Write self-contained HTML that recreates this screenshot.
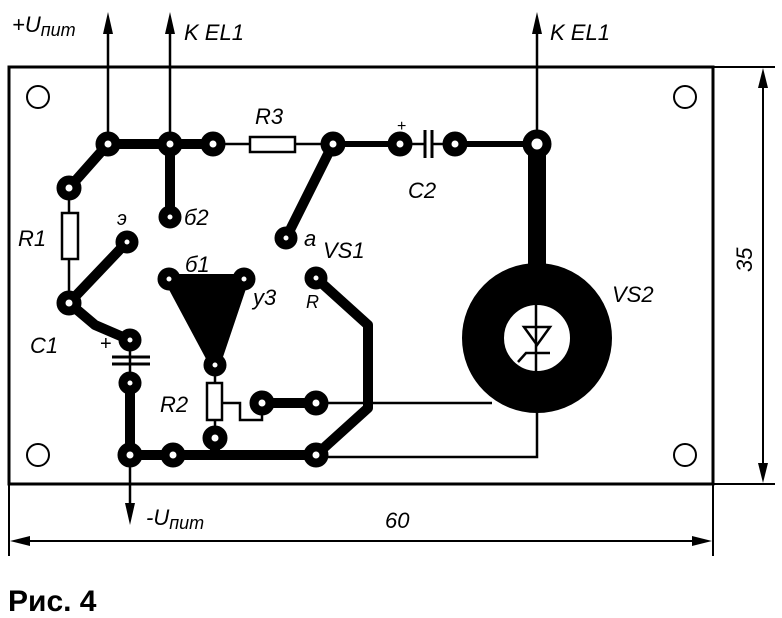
<!DOCTYPE html>
<html><head><meta charset="utf-8"><style>
html,body{margin:0;padding:0;background:#fff}
svg{display:block}
text{font-family:"Liberation Sans","DejaVu Sans",sans-serif;font-style:italic;fill:#000}
text.n{font-style:normal}
</style></head><body>
<svg width="782" height="618" viewBox="0 0 782 618" xmlns="http://www.w3.org/2000/svg">
<!-- board -->
<rect x="9" y="67" width="704" height="417" fill="none" stroke="#000" stroke-width="3"/>
<g fill="none" stroke="#000" stroke-width="2">
<circle cx="38" cy="97" r="11"/><circle cx="685" cy="97" r="11"/>
<circle cx="38" cy="455" r="11"/><circle cx="685" cy="455" r="11"/>
</g>
<!-- thin lines -->
<g stroke="#000" stroke-width="2.5" fill="none">
<line x1="108" y1="144" x2="108" y2="20"/>
<line x1="170" y1="144" x2="170" y2="20"/>
<line x1="537" y1="144" x2="537" y2="20"/>
<line x1="130" y1="455" x2="130" y2="515"/>
<line x1="213" y1="144" x2="250" y2="144"/>
<line x1="295" y1="144" x2="333" y2="144"/>
<line x1="400" y1="144" x2="425" y2="144"/>
<line x1="432" y1="144" x2="455" y2="144"/>
<line x1="69" y1="188" x2="69" y2="213"/>
<line x1="69" y1="259" x2="69" y2="303"/>
<line x1="215" y1="365" x2="215" y2="438"/>
<path d="M222,403 H240 V420 H262 V403"/>
<path d="M316,403 H492"/>
<path d="M316,457 H537 V410"/>
<line x1="130" y1="338" x2="130" y2="383"/>
</g>
<!-- arrowheads -->
<g fill="#000">
<path d="M108,12 L103,34 L113,34Z"/><path d="M170,12 L165,34 L175,34Z"/><path d="M537,12 L532,34 L542,34Z"/>
<path d="M130,525 L125,503 L135,503Z"/>
</g>
<!-- medium traces -->
<g stroke="#000" stroke-width="6" fill="none" stroke-linecap="round">
<path d="M333,144 H400"/>
<path d="M455,144 H537"/>
</g>
<!-- thick traces -->
<g stroke="#000" stroke-width="10" fill="none" stroke-linejoin="round" stroke-linecap="round">
<path d="M69,188 L108,144 H213"/>
<path d="M170,144 V217"/>
<path d="M333,144 L286,238"/>
<path d="M127,242 L69,303 L95,325 L130,340"/>
<path d="M316,278 L368,325 V408 L316,455"/>
<path d="M262,403 H316"/>
<path d="M130,383 V455 H316"/>
<path d="M215,438 V455"/>
</g>
<path d="M537,144 V280" stroke="#000" stroke-width="18"/>
<!-- triangle -->
<path d="M169,279 L244,279 L215,365 Z" fill="#000" stroke="#000" stroke-width="10" stroke-linejoin="round"/>
<!-- ring -->
<circle cx="537" cy="338" r="54" fill="none" stroke="#000" stroke-width="42"/>
<!-- diode in ring -->
<g stroke="#000" stroke-width="2.5" fill="none">
<line x1="536" y1="305" x2="536" y2="372"/>
<path d="M524,327 H550 L537,345 Z"/>
<path d="M518,362 L526,353 H550"/>
</g>
<!-- pads -->
<g fill="#fff" stroke="#000" stroke-width="9">
<circle cx="108" cy="144" r="8"/><circle cx="170" cy="144" r="8"/><circle cx="213" cy="144" r="8"/>
<circle cx="333" cy="144" r="8"/><circle cx="400" cy="144" r="8"/><circle cx="455" cy="144" r="8"/>
<circle cx="537" cy="144" r="10"/>
<circle cx="69" cy="188" r="8"/><circle cx="69" cy="303" r="8"/>
<circle cx="127" cy="242" r="7"/><circle cx="170" cy="217" r="7"/><circle cx="286" cy="238" r="7"/>
<circle cx="169" cy="279" r="7"/><circle cx="244" cy="279" r="7"/><circle cx="316" cy="278" r="7"/>
<circle cx="215" cy="365" r="7"/><circle cx="215" cy="438" r="8"/>
<circle cx="130" cy="340" r="7"/><circle cx="130" cy="383" r="7"/>
<circle cx="262" cy="403" r="8"/><circle cx="316" cy="403" r="8"/>
<circle cx="130" cy="455" r="8"/><circle cx="173" cy="455" r="8"/><circle cx="316" cy="455" r="8"/>
</g>
<!-- components -->
<g fill="#fff" stroke="#000" stroke-width="2.5">
<rect x="250" y="137" width="45" height="15"/>
<rect x="62" y="213" width="16" height="46"/>
<rect x="207" y="383" width="15" height="37"/>
</g>
<g stroke="#000" stroke-width="3">
<line x1="425" y1="130" x2="425" y2="158"/><line x1="432" y1="130" x2="432" y2="158"/>
<line x1="112" y1="357" x2="150" y2="357"/><line x1="112" y1="364" x2="150" y2="364"/>
</g>
<!-- dimensions -->
<g stroke="#000" stroke-width="2" fill="none">
<line x1="9" y1="484" x2="9" y2="556"/><line x1="713" y1="484" x2="713" y2="556"/>
<line x1="14" y1="541" x2="708" y2="541"/>
<line x1="713" y1="67" x2="775" y2="67"/><line x1="713" y1="484" x2="775" y2="484"/>
<line x1="763" y1="72" x2="763" y2="479"/>
</g>
<g fill="#000">
<path d="M10,541 L30,536 L30,546Z"/><path d="M712,541 L692,536 L692,546Z"/>
<path d="M763,68 L758,88 L768,88Z"/><path d="M763,483 L758,463 L768,463Z"/>
</g>
<!-- labels -->
<g font-size="22">
<text x="12" y="32">+U<tspan font-size="18" dy="4">пит</tspan></text>
<text x="184" y="40">K EL1</text>
<text x="550" y="40">K EL1</text>
<text x="255" y="124">R3</text>
<text x="408" y="198">C2</text>
<text x="18" y="246">R1</text>
<text x="117" y="225" font-size="20">э</text>
<text x="184" y="225">б2</text>
<text x="304" y="246">a</text>
<text x="323" y="258">VS1</text>
<text x="185" y="272">б1</text>
<text x="253" y="305">у3</text>
<text x="306" y="308" font-size="18">R</text>
<text x="612" y="302">VS2</text>
<text x="30" y="353">C1</text>
<text class="n" x="100" y="350" font-size="20">+</text>
<text class="n" x="397" y="131" font-size="16">+</text>
<text x="160" y="412">R2</text>
<text x="146" y="525">-U<tspan font-size="18" dy="4">пит</tspan></text>
<text x="385" y="528">60</text>
<text transform="translate(752,272) rotate(-90)">35</text>
</g>
<text class="n" x="8" y="611" font-size="30" font-weight="bold">Рис. 4</text>
</svg>
</body></html>
